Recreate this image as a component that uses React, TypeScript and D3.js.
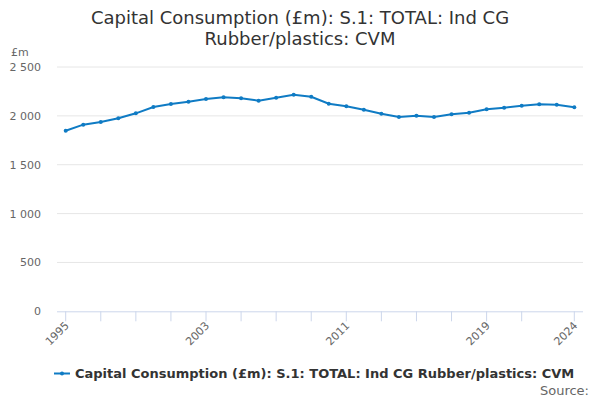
import React, { useRef, useEffect } from 'react';
import * as d3 from 'd3';

const years = [
  1995, 1996, 1997, 1998, 1999, 2000, 2001, 2002, 2003, 2004,
  2005, 2006, 2007, 2008, 2009, 2010, 2011, 2012, 2013, 2014,
  2015, 2016, 2017, 2018, 2019, 2020, 2021, 2022, 2023, 2024,
];

const values = [
  1848, 1910, 1937, 1975, 2026, 2091, 2121, 2145, 2173, 2190,
  2180, 2155, 2186, 2217, 2196, 2124, 2098, 2063, 2022, 1988,
  2002, 1988, 2016, 2032, 2067, 2084, 2104, 2118, 2114, 2088,
];

const yTicks = [0, 500, 1000, 1500, 2000, 2500];
const xTickYears = [1995, 1997, 1999, 2001, 2003, 2005, 2007, 2009, 2011, 2013, 2015, 2017, 2019, 2021, 2024];
const xLabelYears = [1995, 2003, 2011, 2019, 2024];

const titleLines = ['Capital Consumption (£m): S.1: TOTAL: Ind CG', 'Rubber/plastics: CVM'];
const seriesName = 'Capital Consumption (£m): S.1: TOTAL: Ind CG Rubber/plastics: CVM';

const width = 600;
const height = 400;
const font = '"DejaVu Sans", sans-serif';
const lineColor = '#0f7bc4';

const App: React.FC = () => {
  const svgRef = useRef<SVGSVGElement>(null);

  useEffect(() => {
    if (!svgRef.current) return;
    const svg = d3.select(svgRef.current);
    svg.selectAll('*').remove();

    const plotLeft = 57;
    const plotRight = 583;
    const plotTop = 67;
    const plotBottom = 311.3;

    const x = d3.scaleLinear().domain([1995, 2024]).range([65.7, 574.3]);
    const y = d3.scaleLinear().domain([0, 2500]).range([plotBottom, plotTop]);

    // title
    svg.append('text')
      .attr('text-anchor', 'middle')
      .style('font-family', font)
      .style('font-size', '18px')
      .style('fill', '#333')
      .selectAll('tspan')
      .data(titleLines)
      .enter()
      .append('tspan')
      .attr('x', width / 2)
      .attr('y', (_, i) => 24 + i * 21)
      .text(d => d);

    // gridlines
    svg.append('g')
      .selectAll('line')
      .data(yTicks.filter(t => t > 0))
      .enter()
      .append('line')
      .attr('x1', plotLeft)
      .attr('x2', plotRight)
      .attr('y1', d => y(d))
      .attr('y2', d => y(d))
      .attr('stroke', '#e6e6e6')
      .attr('stroke-width', 1);

    // y labels
    svg.append('g')
      .selectAll('text')
      .data(yTicks)
      .enter()
      .append('text')
      .attr('x', 41)
      .attr('y', d => y(d) + 4)
      .attr('text-anchor', 'end')
      .style('font-family', font)
      .style('font-size', '11px')
      .style('fill', '#666')
      .text(d => d3.format(',')(d).replace(',', ' '));

    svg.append('text')
      .attr('x', 11)
      .attr('y', 56)
      .style('font-family', font)
      .style('font-size', '11px')
      .style('fill', '#666')
      .text('£m');

    // x axis
    svg.append('line')
      .attr('x1', plotLeft)
      .attr('x2', plotRight)
      .attr('y1', plotBottom + 0.5)
      .attr('y2', plotBottom + 0.5)
      .attr('stroke', '#ccd6eb');

    svg.append('g')
      .selectAll('line')
      .data(xTickYears)
      .enter()
      .append('line')
      .attr('x1', d => x(d))
      .attr('x2', d => x(d))
      .attr('y1', plotBottom)
      .attr('y2', plotBottom + 10)
      .attr('stroke', '#ccd6eb');

    svg.append('g')
      .selectAll('text')
      .data(xLabelYears)
      .enter()
      .append('text')
      .attr('transform', d => `translate(${x(d) + 4}, ${plotBottom + 15}) rotate(-45)`)
      .attr('text-anchor', 'end')
      .style('font-family', font)
      .style('font-size', '11px')
      .style('fill', '#666')
      .text(d => d);

    // line
    const line = d3.line<number>()
      .x((_, i) => x(years[i]))
      .y(d => y(d));

    svg.append('path')
      .datum(values)
      .attr('d', line)
      .attr('fill', 'none')
      .attr('stroke', lineColor)
      .attr('stroke-width', 2);

    svg.append('g')
      .selectAll('circle')
      .data(values)
      .enter()
      .append('circle')
      .attr('cx', (_, i) => x(years[i]))
      .attr('cy', d => y(d))
      .attr('r', 2)
      .attr('fill', lineColor);

    // legend
    const legend = svg.append('g');
    legend.append('line')
      .attr('x1', 54)
      .attr('x2', 70)
      .attr('y1', 373.5)
      .attr('y2', 373.5)
      .attr('stroke', lineColor)
      .attr('stroke-width', 2);
    legend.append('circle')
      .attr('cx', 62)
      .attr('cy', 373.5)
      .attr('r', 2)
      .attr('fill', lineColor);
    legend.append('text')
      .attr('x', 75)
      .attr('y', 378)
      .style('font-family', font)
      .style('font-size', '13px')
      .style('font-weight', 'bold')
      .style('fill', '#333')
      .text(seriesName);

    svg.append('text')
      .attr('x', 589)
      .attr('y', 395)
      .attr('text-anchor', 'end')
      .style('font-family', font)
      .style('font-size', '13px')
      .style('fill', '#666')
      .text('Source:');
  }, []);

  return <svg ref={svgRef} width={width} height={height} style={{ display: 'block', position: 'absolute', left: 0, top: 0 }} />;
};

export default App;
